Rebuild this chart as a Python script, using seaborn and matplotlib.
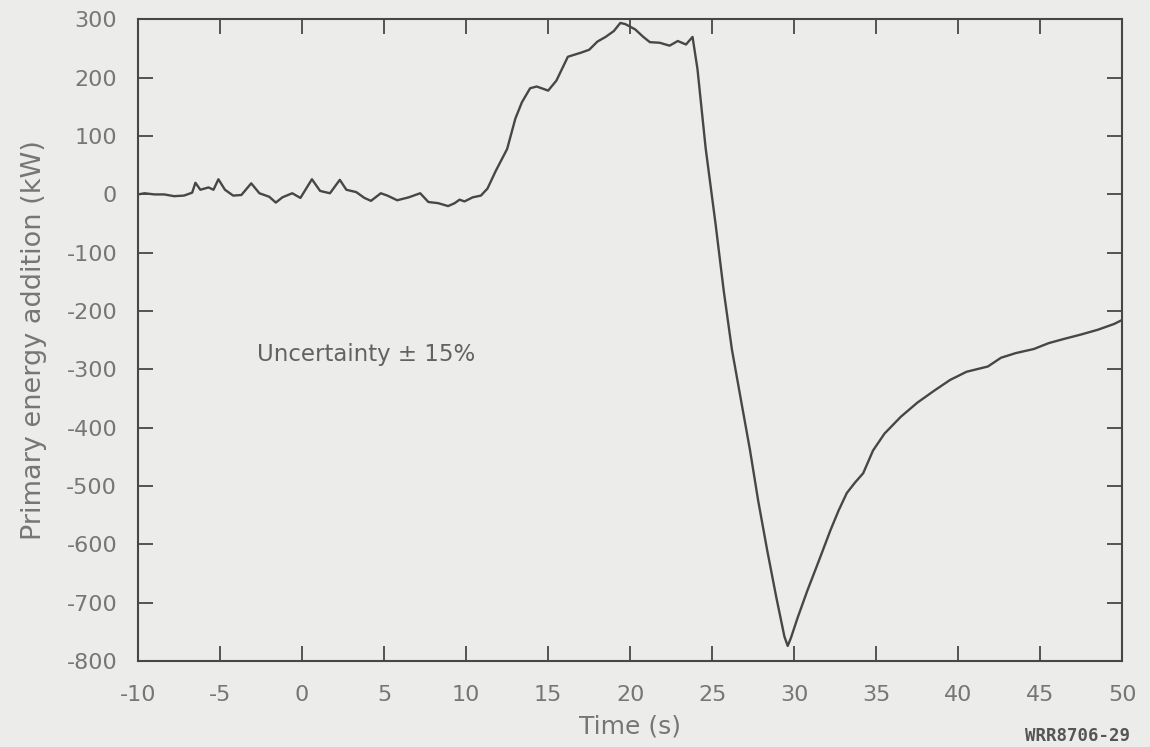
import matplotlib
matplotlib.use("Agg")
import matplotlib.pyplot as plt
import seaborn as sns
import pandas as pd

# Time (s) and primary energy addition (kW)
time_s = [
    -10.0, -9.6, -9.0, -8.4, -7.8, -7.2, -6.7, -6.5, -6.2, -5.7, -5.4, -5.1,
    -4.7, -4.2, -3.7, -3.1, -2.6, -2.0, -1.6, -1.2, -0.6, -0.1, 0.6, 1.1,
    1.7, 2.3, 2.7, 3.3, 3.8, 4.2, 4.8, 5.2, 5.8, 6.5, 7.2, 7.7, 8.3, 8.9,
    9.3, 9.6, 9.9, 10.4, 10.9, 11.3, 11.8, 12.5, 13.0, 13.4, 13.9, 14.3,
    15.0, 15.5, 16.2, 17.0, 17.5, 18.0, 18.5, 19.0, 19.4, 19.7, 20.3, 20.8,
    21.2, 21.8, 22.4, 22.9, 23.4, 23.8, 24.1, 24.6, 25.2, 25.7, 26.2, 26.8,
    27.3, 27.8, 28.35, 28.9, 29.4, 29.6, 29.8, 30.2, 30.8, 31.5, 32.2, 32.7,
    33.2, 33.7, 34.2, 34.8, 35.5, 36.5, 37.5, 38.5, 39.5, 40.5, 41.8, 42.6,
    43.5, 44.6, 45.5, 46.4, 47.5, 48.5, 49.5, 50.0,
]
energy_kw = [
    0, 2, 0, 0, -3, -2, 3, 20, 8, 12, 8, 26,
    8, -2, -1, 19, 2, -4, -14, -5, 2, -6, 26, 6,
    2, 25, 8, 4, -6, -11, 2, -2, -10, -5, 2, -13, -15, -20,
    -15, -9, -12, -5, -2, 10, 40, 78, 130, 158, 182, 185,
    178, 195, 236, 243, 248, 262, 270, 280, 294, 292, 283, 270,
    261, 260, 255, 263, 257, 270, 215, 79, -50, -165, -266, -360,
    -438, -525, -610, -690, -758, -774, -760, -726, -679, -628, -576, -542,
    -512, -494, -478, -439, -410, -381, -357, -337, -318, -304, -295, -280,
    -272, -265, -255, -248, -240, -232, -222, -215,
]

x_ticks = list(range(-10, 51, 5))
x_tick_labels = ["-10", "-5", "0", "5", "10", "15", "20", "25", "30", "35", "40", "45", "50"]
y_ticks = list(range(-800, 301, 100))
y_tick_labels = ["-800", "-700", "-600", "-500", "-400", "-300", "-200", "-100",
                 "0", "100", "200", "300"]

note_text = "Uncertainty \u00b1 15%"
figure_id = "WRR8706-29"

paper = "#ececeb"
ink = "#474747"
label_grey = "#767676"

sns.set_theme(style="ticks")
plt.rcParams["font.family"] = ["DejaVu Sans"]
plt.rcParams["axes.unicode_minus"] = False

fig = plt.figure(figsize=(11.5, 7.47), dpi=100, facecolor=paper)
ax = fig.add_axes([0.12, 0.115, 0.856, 0.859])
ax.set_facecolor(paper)

df = pd.DataFrame({"Time (s)": time_s, "Energy (kW)": energy_kw})
sns.lineplot(data=df, x="Time (s)", y="Energy (kW)", ax=ax,
             color=ink, linewidth=1.7, sort=False)

ax.set_xlim(-10, 50)
ax.set_ylim(-800, 300)
ax.set_xticks(x_ticks)
ax.set_xticklabels(x_tick_labels)
ax.set_yticks(y_ticks)
ax.set_yticklabels(y_tick_labels)

ax.tick_params(axis="both", which="major", direction="in", length=11, width=1.3,
               color=ink, labelsize=16, labelcolor=label_grey,
               top=True, right=True)
ax.tick_params(axis="x", pad=17)
ax.tick_params(axis="y", pad=15)
for spine in ax.spines.values():
    spine.set_color(ink)
    spine.set_linewidth(1.5)

ax.set_xlabel("Time (s)", fontsize=18, color=label_grey, labelpad=7)
ax.set_ylabel("Primary energy addition (kW)", fontsize=19.5, color=label_grey, labelpad=14)

ax.text(-2.75, -275, note_text, fontsize=16.5, color="#626262",
        ha="left", va="center")

fig.text(0.983, 0.003, figure_id, fontsize=12.5, fontweight="bold",
         family="DejaVu Sans Mono", color="#555555", ha="right", va="bottom")

fig.savefig("out.png", dpi=100, facecolor=paper)
